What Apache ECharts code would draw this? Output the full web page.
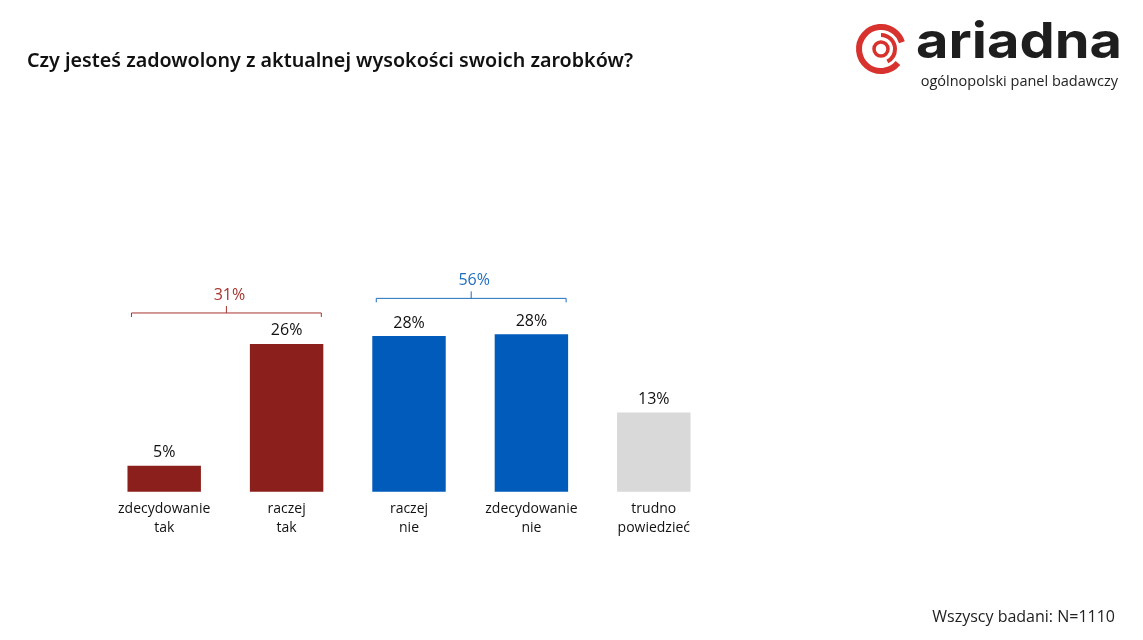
<!DOCTYPE html>
<html>
<head>
<meta charset="utf-8">
<script src="https://cdn.jsdelivr.net/npm/echarts@6/dist/echarts.min.js"></script>
<style>
html,body{margin:0;padding:0;background:#fff;}
#chart{width:1143px;height:640px;}
</style>
</head>
<body>
<div id="chart"></div>
<script>
// ---- data ----
var categories = ['zdecydowanie\ntak', 'raczej\ntak', 'raczej\nnie', 'zdecydowanie\nnie', 'trudno\npowiedzieć'];
var values = [4.6, 26.3, 27.7, 28.0, 14.1];
var valueLabels = ['5%', '26%', '28%', '28%', '13%'];
var barColors = ['#8B1F1C', '#8B1F1C', '#005BBB', '#005BBB', '#D9D9D9'];
// grouped totals (brackets)
var groupStart = [0, 2];
var groupEnd = [1, 3];
var groupLevel = [31.8, 34.4];
var groupLabels = ['31%', '56%'];
var groupColors = ['#A5342F', '#1F6DBF'];

var chart = echarts.init(document.getElementById('chart'), null, {renderer: 'canvas'});

var bracketData = groupStart.map(function (s, i) {
  return [s, groupEnd[i], groupLevel[i], i];
});

var option = {
  backgroundColor: '#ffffff',
  animation: false,
  title: {
    text: 'Czy jesteś zadowolony z aktualnej wysokości swoich zarobków?',
    left: 22, top: 46,
    textStyle: {fontFamily: 'Noto Sans', fontSize: 19.7, fontWeight: 600, color: '#111111'}
  },
  grid: {left: 103, right: 1143 - 715, top: 210.7, bottom: 148.3, containLabel: false},
  xAxis: {
    type: 'category',
    data: categories,
    axisLine: {show: false},
    axisTick: {show: false},
    axisLabel: {
      interval: 0,
      fontFamily: 'Open Sans', fontSize: 14, color: '#111111', lineHeight: 19, margin: 8
    }
  },
  yAxis: {
    type: 'value', min: 0, max: 50, show: false,
    splitLine: {show: false}
  },
  series: [
    {
      type: 'bar',
      barWidth: '60%',
      data: values.map(function (v, i) {
        return {value: v, itemStyle: {color: barColors[i]}};
      }),
      label: {
        show: true, position: 'top', distance: 5,
        fontFamily: 'Open Sans', fontSize: 16, color: '#111111',
        formatter: function (p) { return valueLabels[p.dataIndex]; }
      }
    },
    {
      type: 'custom',
      data: bracketData,
      silent: true,
      renderItem: function (params, api) {
        var s = api.value(0), e = api.value(1), lvl = api.value(2), gi = api.value(3);
        var bw = api.size([1, 0])[0] * 0.6;
        var p1 = api.coord([s, lvl]);
        var p2 = api.coord([e, lvl]);
        var x1 = p1[0] - bw / 2 + 4, x2 = p2[0] + bw / 2 - 2, y = p1[1];
        var mid = (x1 + x2) / 2;
        var col = groupColors[gi];
        return {
          type: 'group',
          children: [
            {type: 'polyline', shape: {points: [[x1, y + 4], [x1, y], [x2, y], [x2, y + 4]]},
              style: {stroke: col, lineWidth: 1, fill: null}},
            {type: 'line', shape: {x1: mid, y1: y, x2: mid, y2: y - 7},
              style: {stroke: col, lineWidth: 1}},
            {type: 'text', x: mid + 3, y: y - 18,
              style: {text: groupLabels[gi], fill: col, fontFamily: 'Open Sans', fontSize: 16,
                align: 'center', verticalAlign: 'middle'}}
          ]
        };
      }
    }
  ],
  graphic: [
    // logo icon
    {type: 'arc', shape: {cx: 881, cy: 49, r: 22, startAngle: Math.PI * 0.22, endAngle: Math.PI * 1.9},
      style: {stroke: '#D7322D', lineWidth: 6, fill: null, lineCap: 'butt'}},
    {type: 'arc', shape: {cx: 881, cy: 49, r: 14, startAngle: -Math.PI * 0.5, endAngle: Math.PI * 0.35},
      style: {stroke: '#D7322D', lineWidth: 4, fill: null}},
    {type: 'circle', shape: {cx: 881, cy: 49, r: 7},
      style: {stroke: '#D7322D', lineWidth: 3.5, fill: null}},
    {type: 'text', x: 916, y: 68, scaleX: 1.12,
      style: {text: 'ariadna', fill: '#1E1E1E', fontFamily: 'Inter', fontWeight: 700, fontSize: 50,
        verticalAlign: 'bottom', textBaseline: 'alphabetic'}},
    {type: 'text', right: 25, top: 74,
      style: {text: 'ogólnopolski panel badawczy', fill: '#222222', fontFamily: 'Open Sans', fontSize: 14.5}},
    // footer
    {type: 'text', right: 28, top: 609,
      style: {text: 'Wszyscy badani: N=1110', fill: '#222222', fontFamily: 'Open Sans', fontSize: 16}}
  ]
};
chart.setOption(option);
</script>
</body>
</html>
